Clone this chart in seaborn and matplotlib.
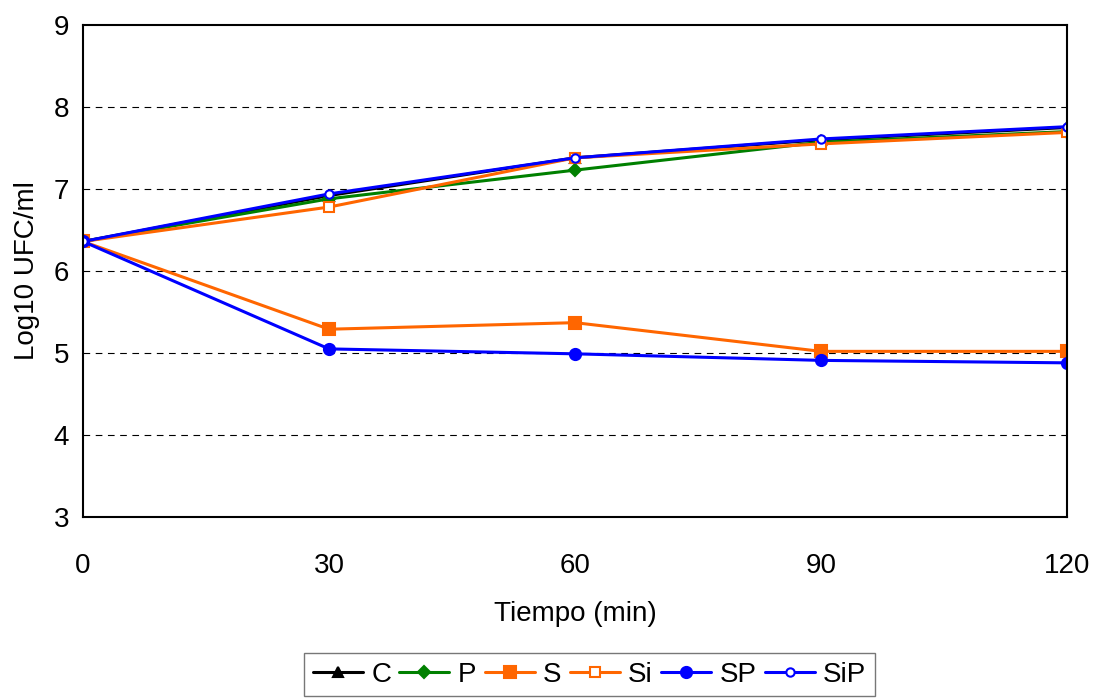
import seaborn as sns
import matplotlib.pyplot as plt
import pandas as pd

tiempo = [0, 30, 60, 90, 120]
C = [6.36, 6.92, 7.38, 7.60, 7.75]
P = [6.36, 6.88, 7.23, 7.57, 7.70]
S = [6.36, 5.29, 5.37, 5.02, 5.02]
Si = [6.36, 6.78, 7.38, 7.55, 7.69]
SP = [6.36, 5.05, 4.99, 4.91, 4.88]
SiP = [6.36, 6.94, 7.38, 7.61, 7.76]

sns.set_style('white')
plt.rcParams['font.family'] = ['Liberation Sans', 'DejaVu Sans']
plt.rcParams['font.size'] = 17
plt.rcParams['text.color'] = 'black'
plt.rcParams['axes.labelcolor'] = 'black'
plt.rcParams['xtick.color'] = 'black'
plt.rcParams['ytick.color'] = 'black'

fig = plt.figure(figsize=(10.94, 6.98), dpi=100)
ax = fig.add_axes([0.0759, 0.2593, 0.8994, 0.7049])

series = {'C': C, 'P': P, 'S': S, 'Si': Si, 'SP': SP, 'SiP': SiP}
styles = {
    'C': dict(color='black', marker='^', mfc='black', ms=7),
    'P': dict(color='#008000', marker='D', mfc='#008000', ms=6),
    'S': dict(color='#FF6600', marker='s', mfc='#FF6600', ms=8),
    'Si': dict(color='#FF6600', marker='s', mfc='white', ms=7),
    'SP': dict(color='#0000FF', marker='o', mfc='#0000FF', ms=8),
    'SiP': dict(color='#0000FF', marker='o', mfc='white', ms=6),
}

for name, vals in series.items():
    df = pd.DataFrame({'Tiempo': tiempo, 'Log': vals})
    st = styles[name]
    sns.lineplot(data=df, x='Tiempo', y='Log', ax=ax, label=name,
                 color=st['color'], marker=st['marker'], markerfacecolor=st['mfc'],
                 markeredgecolor=st['color'], markersize=st['ms'],
                 markeredgewidth=1.5, linewidth=2.2)

ax.set_xlim(0, 120)
ax.set_ylim(3, 9)
ax.set_xticks(tiempo)
ax.set_yticks(range(3, 10))
for yv in range(4, 9):
    ax.axhline(yv, color='black', ls=(0, (6, 5)), lw=0.8, zorder=0)

for sp in ax.spines.values():
    sp.set_color('black')
    sp.set_linewidth(1.5)
ax.tick_params(axis='both', direction='out', length=7, width=1, color='#808080',
               labelcolor='black', labelsize=20)
ax.tick_params(axis='x', pad=19)
ax.tick_params(axis='y', pad=3)

ax.set_xlabel('Tiempo (min)', fontsize=20, labelpad=16, color='black')
ax.set_ylabel('Log10 UFC/ml', fontsize=20, labelpad=10, color='black')

leg = ax.legend(loc='upper center', bbox_to_anchor=(0.539, 0.084),
                bbox_transform=fig.transFigure, ncol=6, fontsize=20,
                frameon=True, fancybox=False, edgecolor='#555555',
                handlelength=1.8, handletextpad=0.3, columnspacing=0.3,
                borderpad=0.3)
leg.get_frame().set_linewidth(1)
for t in leg.get_texts():
    t.set_color('black')

fig.savefig('out.png', dpi=100)
